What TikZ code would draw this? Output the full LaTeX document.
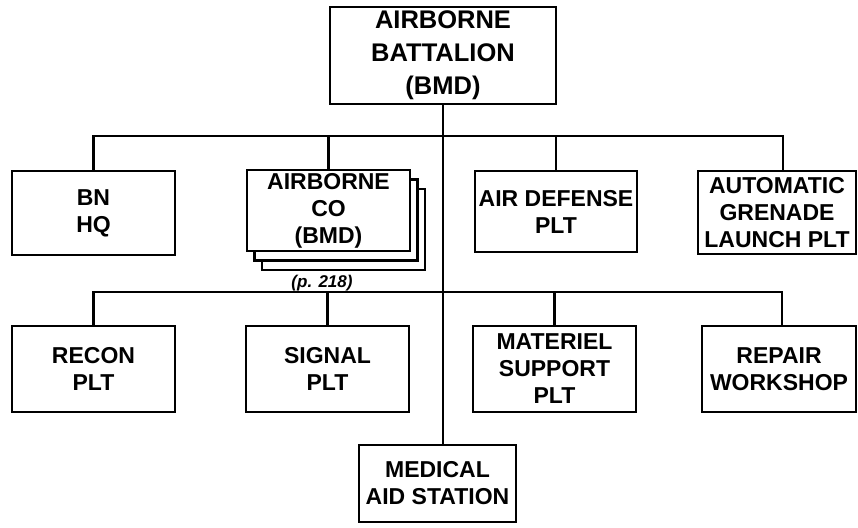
\documentclass[tikz,border=0pt]{standalone}
\usepackage{fontspec}
\setmainfont{Liberation Sans}
\usetikzlibrary{shadows}
\tikzset{
  unit/.style={draw, line width=2.5pt, fill=white, align=center, inner sep=0pt,
    font=\bfseries\fontsize{23}{27}\selectfont},
  link/.style={line width=2.2pt},
}
\begin{document}
\begin{tikzpicture}[x=1pt,y=-1pt]
\useasboundingbox (0,0) rectangle (858,527);
\node[unit, minimum width=226pt, minimum height=97pt,
  font=\bfseries\fontsize{25.5}{33}\selectfont] (bn) at (443,55.5) {AIRBORNE\\BATTALION\\(BMD)};
% first row
\node[unit, minimum width=163pt, minimum height=84pt] (hq) at (93.5,213) {BN\\HQ};
\node[unit, minimum width=163pt, minimum height=81pt,
  double copy shadow={shadow xshift=7.5pt, shadow yshift=-9.5pt}] (co) at (328.5,210.5) {AIRBORNE\\CO\\(BMD)};
\node[unit, minimum width=162pt, minimum height=81pt] (ad) at (556,211.5) {AIR DEFENSE\\PLT};
\node[unit, minimum width=158pt, minimum height=83pt] (agl) at (777,212.5) {AUTOMATIC\\GRENADE\\LAUNCH PLT};
\node[font=\bfseries\itshape\fontsize{17}{17}\selectfont] (page) at (322,283) {(p. 218)};
% second row
\node[unit, minimum width=163pt, minimum height=86pt] (recon) at (93.5,369) {RECON\\PLT};
\node[unit, minimum width=163pt, minimum height=86pt] (signal) at (327.5,369) {SIGNAL\\PLT};
\node[unit, minimum width=163pt, minimum height=86pt] (mat) at (554.5,369) {MATERIEL\\SUPPORT\\PLT};
\node[unit, minimum width=154pt, minimum height=86pt] (rep) at (779,369) {REPAIR\\WORKSHOP};
\node[unit, minimum width=157pt, minimum height=77pt] (med) at (437.5,483.5) {MEDICAL\\AID STATION};
% buses
\coordinate (bus1) at (443,136);
\coordinate (bus2) at (443,292);
\draw[link] (bn.south) -- (bn.south |- med.north);
\draw[link] (hq.north) |- (bus1) -| ([xshift=6pt]agl.north);
\draw[link] (co.north) -- (co.north |- bus1);
\draw[link] (ad.north) -- (ad.north |- bus1);
\draw[link] (recon.north) |- (bus2) -| ([xshift=3pt]rep.north);
\draw[link] (signal.north) -- (signal.north |- bus2);
\draw[link] (mat.north) -- (mat.north |- bus2);
\end{tikzpicture}
\end{document}
